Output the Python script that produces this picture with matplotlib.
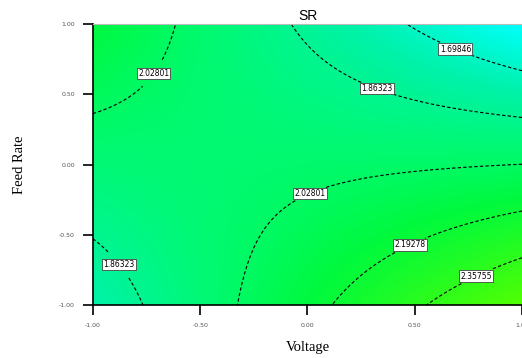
import numpy as np
import matplotlib.pyplot as plt
from matplotlib.colors import LinearSegmentedColormap

# quadratic response surface for SR (coded units)
b0 = 1.995
b_voltage = 0.034
b_feed = -0.155
b_inter = -0.34
b_voltage2 = 0.0
b_feed2 = 0.0

levels = [1.69846, 1.86323, 2.02801, 2.19278, 2.35755]
ticks = [-1.0, -0.5, 0.0, 0.5, 1.0]
tick_labels = ["-1.00", "-0.50", "0.00", "0.50", "1.00"]

a = np.linspace(-1, 1, 201)
b = np.linspace(-1, 1, 201)
A, B = np.meshgrid(a, b)
SR = b0 + b_voltage*A + b_feed*B + b_inter*A*B + b_voltage2*A**2 + b_feed2*B**2

cmap = LinearSegmentedColormap.from_list("de", [
    (0.0, (0.0, 1.0, 1.0)),
    (0.25, (0.0, 0.95, 0.66)),
    (0.47, (0.0, 0.98, 0.42)),
    (0.62, (0.0, 0.98, 0.24)),
    (1.0, (0.33, 1.0, 0.0)),
])

fig = plt.figure(figsize=(5.22, 3.58), dpi=100)
ax = fig.add_axes([0.178, 0.148, 0.822, 0.785])
ax.imshow(SR, extent=[-1, 1, -1, 1], origin="lower", cmap=cmap,
          vmin=1.53, vmax=2.53, aspect="auto", interpolation="bilinear")
cs = ax.contour(A, B, SR, levels=levels, colors="black", linewidths=0.8)
cs.set_linestyle((0, (3, 2)))
manual = [(0.70, 0.86), (0.33, 0.57), (-0.86, -0.69), (-0.73, 0.66),
          (0.0, -0.16), (0.47, -0.55), (0.78, -0.77)]
lbls = ax.clabel(cs, inline=True, fontsize=5.5, fmt=lambda v: "%.5f" % v,
                 manual=manual, inline_spacing=1)
for t in lbls:
    t.set_rotation(0)
    t.set_bbox(dict(facecolor="white", edgecolor="#444444", linewidth=0.6, pad=0.9))

ax.set_xlim(-1, 1)
ax.set_ylim(-1, 1)
ax.set_xticks(ticks)
ax.set_xticklabels(tick_labels)
ax.set_yticks(ticks)
ax.set_yticklabels(tick_labels)
ax.tick_params(direction="out", length=7, width=1.2, labelsize=4.5,
               labelcolor="#555555", pad=6)
ax.spines["top"].set_color("#bbbbbb")
ax.spines["right"].set_visible(False)
ax.spines["left"].set_linewidth(1.2)
ax.spines["bottom"].set_linewidth(1.2)

ax.set_title("SR", fontsize=10, family="Liberation Sans", pad=3)
ax.set_xlabel("Voltage", fontsize=10.5, family="Liberation Serif", labelpad=9)
ax.set_ylabel("Feed Rate", fontsize=10.5, family="Liberation Serif", labelpad=24)

fig.savefig("out.png", dpi=100)
